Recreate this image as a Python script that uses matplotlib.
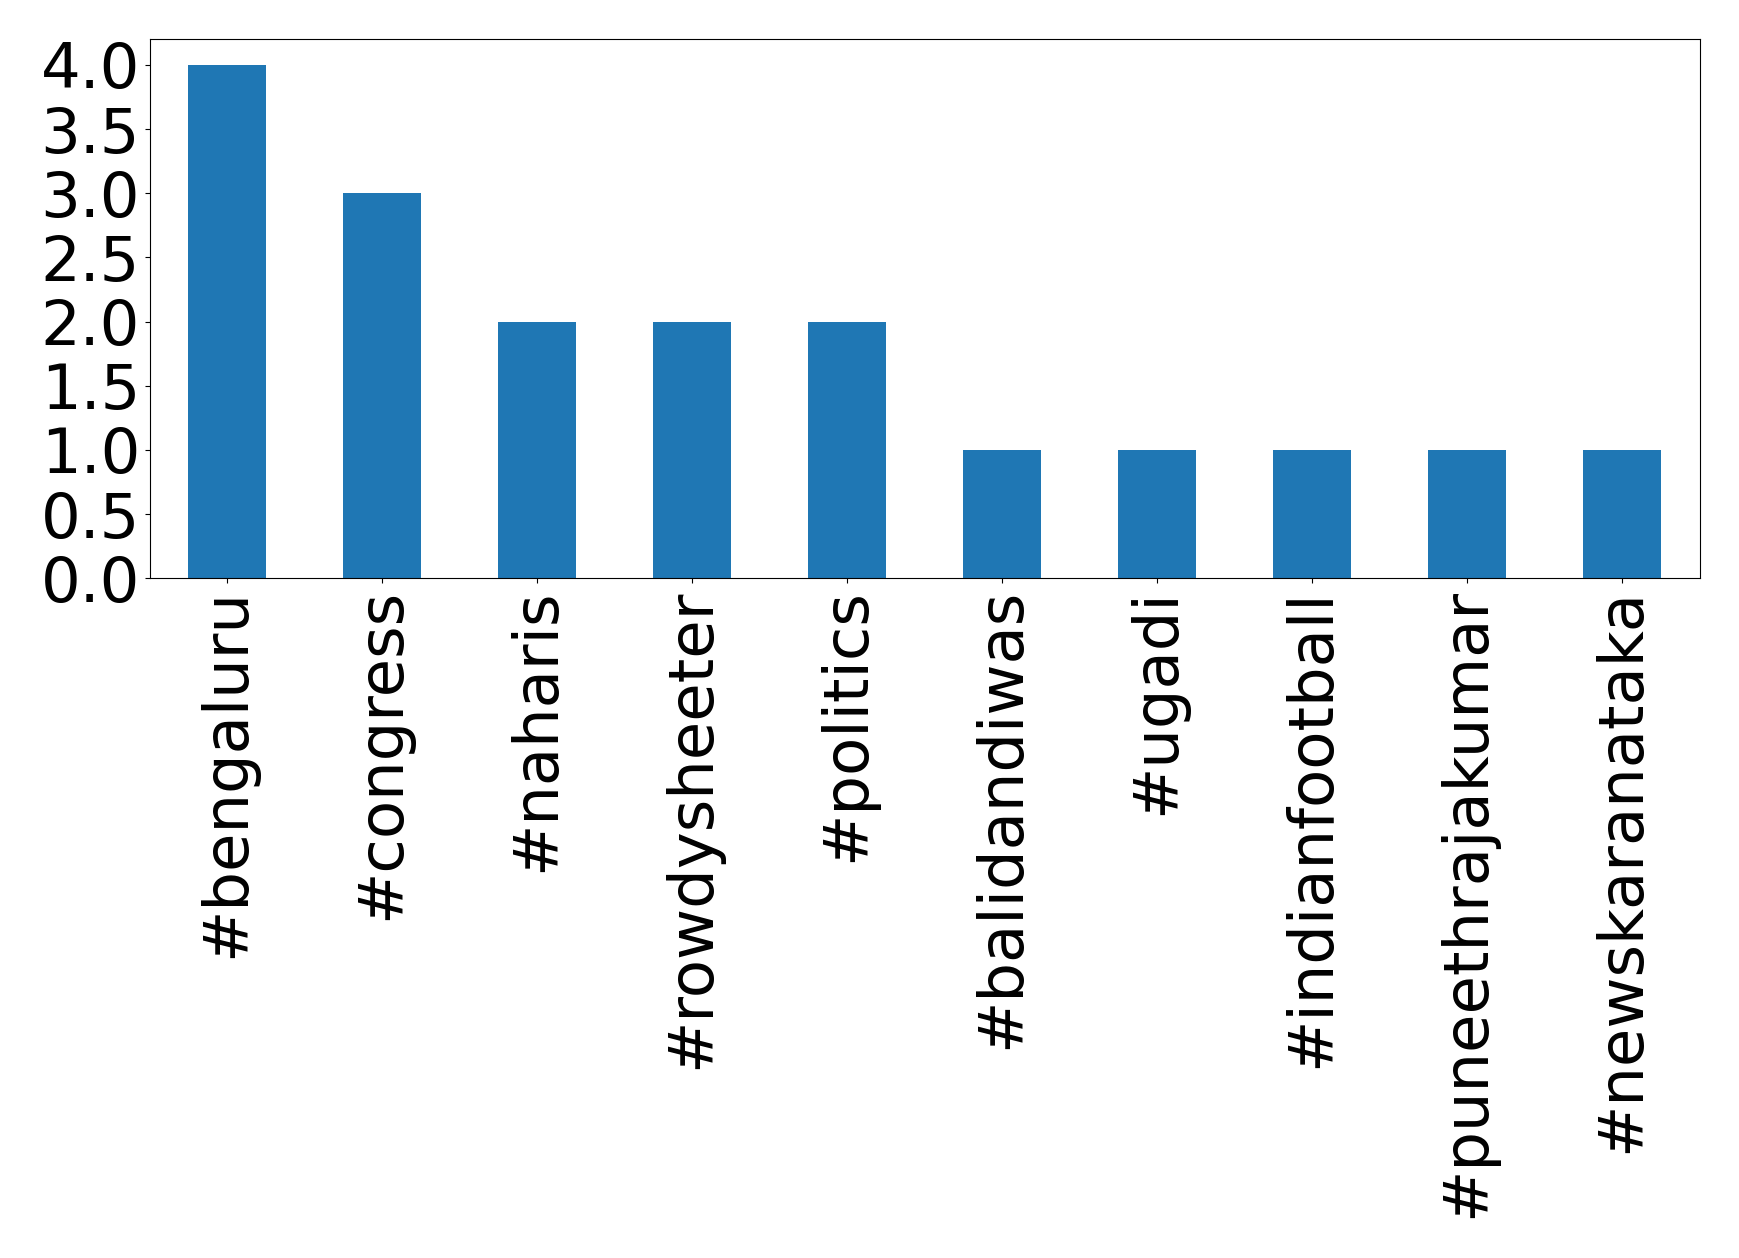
import matplotlib
matplotlib.use("Agg")
import matplotlib.pyplot as plt
import numpy as np

hashtags = [
    "#bengaluru",
    "#congress",
    "#naharis",
    "#rowdysheeter",
    "#politics",
    "#balidandiwas",
    "#ugadi",
    "#indianfootball",
    "#puneethrajakumar",
    "#newskaranataka",
]
counts = [4, 3, 2, 2, 2, 1, 1, 1, 1, 1]

fig = plt.figure(figsize=(17.39, 12.58), dpi=100)
ax = fig.add_axes([0.0861, 0.5403, 0.8913, 0.4285])

x = np.arange(len(hashtags))
ax.bar(x, counts, width=0.5, color="#1f77b4")
ax.set_xlim(-0.5, len(hashtags) - 0.5)
ax.set_ylim(0, 4.2)
ax.set_yticks(np.arange(0, 4.01, 0.5))
ax.set_xticks(x)
ax.set_xticklabels(hashtags, rotation=90)
ax.tick_params(axis="both", labelsize=45)

fig.savefig("out.png", dpi=100)
